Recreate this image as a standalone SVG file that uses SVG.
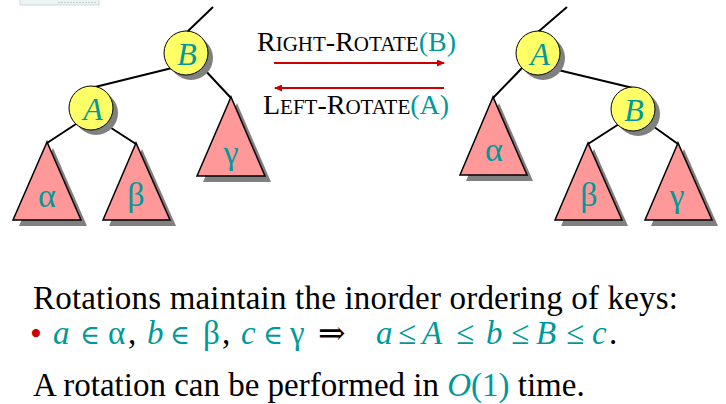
<svg xmlns="http://www.w3.org/2000/svg" width="726" height="404" viewBox="0 0 726 404">
<defs>
<style>
.edge{stroke:#000;stroke-width:2;fill:none}
.tri{fill:#ff9999;stroke:#000;stroke-width:1.5;stroke-linejoin:miter}
.trish{fill:#808080}
.circ{fill:#ffff66;stroke:#000;stroke-width:1}
.circsh{fill:#808080}
.lbl{font-family:"Liberation Serif","DejaVu Serif",serif;font-style:italic;font-size:32px;fill:#009999;text-anchor:middle}
.grk{font-family:"Liberation Serif","DejaVu Serif",serif;font-size:34px;fill:#009999;text-anchor:middle}
.cap{font-family:"Liberation Serif","DejaVu Serif",serif;font-size:28px;fill:#000}
.sc{font-size:21px}
.tl{fill:#009999}
.arr{stroke:#cc0000;stroke-width:2;fill:none}
.body{font-family:"Liberation Serif","DejaVu Serif",serif;font-size:33px;fill:#000}
.it{font-style:italic;fill:#009999}
.te{fill:#009999}
.el{fill:#009999;font-size:27px}
</style>
<marker id="ah" markerUnits="userSpaceOnUse" markerWidth="8" markerHeight="7" refX="7" refY="3.5" orient="auto">
<path d="M0,0 L8,3.5 L0,7 z" fill="#cc0000"/>
</marker>
</defs>
<rect width="726" height="404" fill="#fff"/>
<g id="logo-fragment">
<rect x="20" y="-1" width="79" height="6" fill="#eef4f4" stroke="#cdd8d8" stroke-width="1"/>
<line x1="58" y1="2.5" x2="97" y2="2.5" stroke="#c4cccc" stroke-width="1" stroke-dasharray="2,1"/>
</g>
<g id="connectors">
<line class="edge" x1="187" y1="32" x2="213" y2="7"/>
<line class="edge" x1="91" y1="88" x2="172" y2="68"/>
<line class="edge" x1="202" y1="67" x2="231" y2="98"/>
<line class="edge" x1="76" y1="124" x2="47" y2="143"/>
<line class="edge" x1="105" y1="124" x2="136" y2="144"/>
<line class="edge" x1="538" y1="32" x2="567" y2="7"/>
<line class="edge" x1="523" y1="67" x2="493" y2="98"/>
<line class="edge" x1="554" y1="69" x2="633" y2="88"/>
<line class="edge" x1="619" y1="124" x2="588" y2="144"/>
<line class="edge" x1="650" y1="124" x2="678" y2="144"/>
<line class="arr" x1="274" y1="63" x2="444" y2="63" marker-end="url(#ah)"/>
<line class="arr" x1="444" y1="88" x2="275" y2="88" marker-end="url(#ah)"/>
</g>
<g id="label-right-rotate">
<text class="cap" x="257" y="51">R<tspan class="sc">IGHT</tspan>-R<tspan class="sc">OTATE</tspan><tspan class="tl">(B)</tspan></text>
</g>
<g id="label-left-rotate">
<text class="cap" x="263" y="114">L<tspan class="sc">EFT</tspan>-R<tspan class="sc">OTATE</tspan><tspan class="tl">(A)</tspan></text>
</g>
<g id="left-alpha">
<polygon class="trish" points="53,148 19,226 87,226"/>
<polygon class="tri" points="47,142 13,220 81,220"/>
<text class="grk" x="47" y="207">α</text>
</g>
<g id="left-beta">
<polygon class="trish" points="142,149 109,226 176,226"/>
<polygon class="tri" points="136,143 103,220 170,220"/>
<text class="grk" x="136" y="206">β</text>
</g>
<g id="left-gamma">
<polygon class="trish" points="237,103 203,182 271,182"/>
<polygon class="tri" points="231,97 197,176 265,176"/>
<text class="grk" x="231" y="164">γ</text>
</g>
<g id="left-B">
<circle class="circsh" cx="191" cy="58" r="22"/>
<circle class="circ" cx="186" cy="53" r="22"/>
<text class="lbl" x="187" y="65">B</text>
</g>
<g id="left-A">
<circle class="circsh" cx="96" cy="113" r="22"/>
<circle class="circ" cx="91" cy="108" r="22"/>
<text class="lbl" x="93" y="120">A</text>
</g>
<g id="right-alpha">
<polygon class="trish" points="499,103 466,181 533,181"/>
<polygon class="tri" points="493,97 460,175 527,175"/>
<text class="grk" x="494" y="161">α</text>
</g>
<g id="right-beta">
<polygon class="trish" points="594,149 561,226 628,226"/>
<polygon class="tri" points="588,143 555,220 622,220"/>
<text class="grk" x="589" y="206">β</text>
</g>
<g id="right-gamma">
<polygon class="trish" points="684,149 651,226 718,226"/>
<polygon class="tri" points="678,143 645,220 712,220"/>
<text class="grk" x="677" y="207">γ</text>
</g>
<g id="right-A">
<circle class="circsh" cx="543" cy="58" r="22"/>
<circle class="circ" cx="538" cy="53" r="22"/>
<text class="lbl" x="540" y="65">A</text>
</g>
<g id="right-B">
<circle class="circsh" cx="638" cy="114" r="22"/>
<circle class="circ" cx="633" cy="109" r="22"/>
<text class="lbl" x="634" y="121">B</text>
</g>
<g id="caption">
<text class="body" x="33" y="309" textLength="645" lengthAdjust="spacing">Rotations maintain the inorder ordering of keys:</text>
<text class="body" y="344"><tspan x="30" y="345" font-size="34" fill="#cc0000">•</tspan><tspan class="it" x="53" y="344">a</tspan><tspan class="el" x="80">∈</tspan><tspan class="te" x="108">α</tspan><tspan x="128">,</tspan><tspan class="it" x="147">b</tspan><tspan class="el" x="170">∈</tspan><tspan class="te" x="203">β</tspan><tspan x="222">,</tspan><tspan class="it" x="241">c</tspan><tspan class="el" x="263">∈</tspan><tspan class="te" x="290">γ</tspan><tspan x="318">⇒</tspan><tspan class="it" x="376">a</tspan><tspan class="te" x="398">≤</tspan><tspan class="it" x="422">A</tspan><tspan class="te" x="456">≤</tspan><tspan class="it" x="486">b</tspan><tspan class="te" x="511">≤</tspan><tspan class="it" x="536">B</tspan><tspan class="te" x="566">≤</tspan><tspan class="it" x="592">c</tspan><tspan x="609">.</tspan></text>
<text class="body" x="33" y="396">A rotation can be performed in <tspan class="it">O</tspan><tspan class="te">(1)</tspan> time.</text>
</g>
</svg>
